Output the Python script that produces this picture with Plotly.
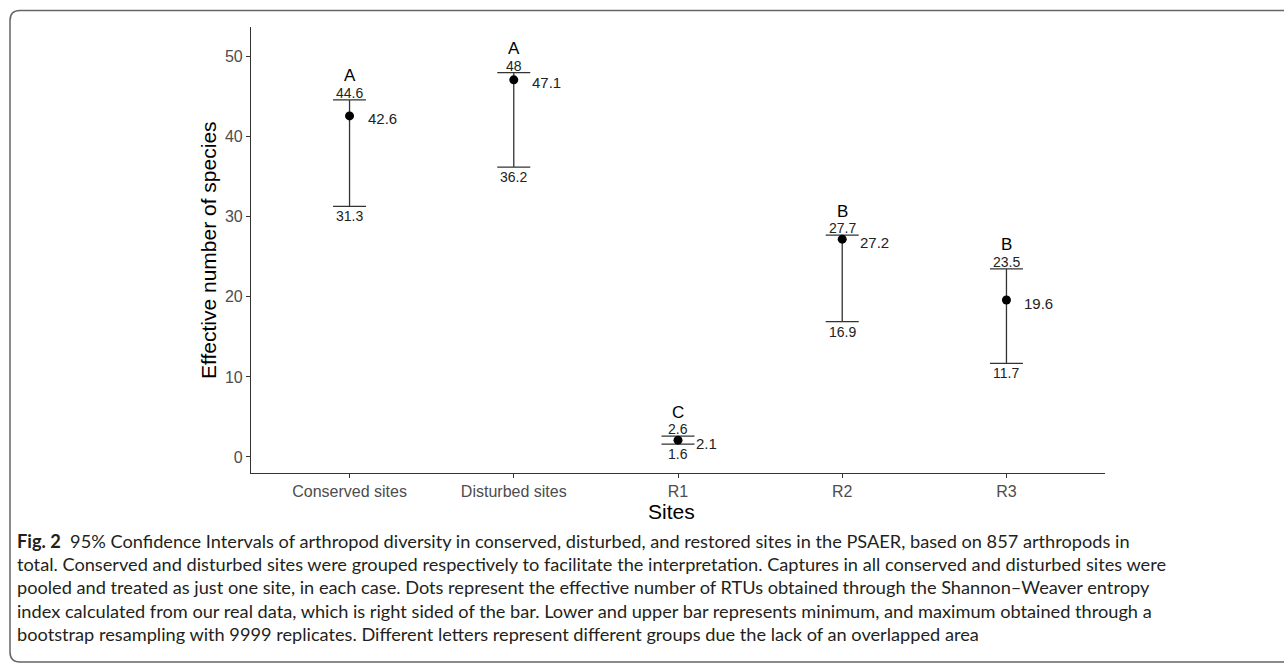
import plotly.graph_objects as go

sites = ["Conserved sites", "Disturbed sites", "R1", "R2", "R3"]
mean_vals = [42.6, 47.1, 2.1, 27.2, 19.6]
lower_vals = [31.3, 36.2, 1.6, 16.9, 11.7]
upper_vals = [44.6, 48.0, 2.6, 27.7, 23.5]
group_letters = ["A", "A", "C", "B", "B"]
y_ticks = [0, 10, 20, 30, 40, 50]

caption_lines = [
    "<b>Fig. 2</b>  95% Confidence Intervals of arthropod diversity in conserved, disturbed, and restored sites in the PSAER, based on 857 arthropods in",
    "total. Conserved and disturbed sites were grouped respectively to facilitate the interpretation. Captures in all conserved and disturbed sites were",
    "pooled and treated as just one site, in each case. Dots represent the effective number of RTUs obtained through the Shannon–Weaver entropy",
    "index calculated from our real data, which is right sided of the bar. Lower and upper bar represents minimum, and maximum obtained through a",
    "bootstrap resampling with 9999 replicates. Different letters represent different groups due the lack of an overlapped area",
]

W, H = 1284, 666
L, R, T, B = 251, 1105, 27, 473


def px(xp):
    return (xp - L) / (R - L)


def py(yp):
    return (B - yp) / (B - T)


fig = go.Figure()
fig.add_trace(go.Scatter(
    x=sites, y=mean_vals, mode="markers",
    marker=dict(color="black", size=9),
    error_y=dict(type="data", symmetric=False,
                 array=[u - m for u, m in zip(upper_vals, mean_vals)],
                 arrayminus=[m - l for m, l in zip(mean_vals, lower_vals)],
                 color="#333333", thickness=1.3, width=16.5),
    showlegend=False, hoverinfo="skip",
))

ann = []
lab_font = dict(family="Liberation Sans, Arial", size=14, color="#222222")
for s, m, lo, up, g in zip(sites, mean_vals, lower_vals, upper_vals, group_letters):
    ann.append(dict(x=s, y=up, text=f"{up:g}", showarrow=False, yshift=7,
                    font=lab_font, xanchor="center", yanchor="middle", borderpad=0))
    ann.append(dict(x=s, y=lo, text=f"{lo:g}", showarrow=False, yshift=-10,
                    font=lab_font, xanchor="center", yanchor="middle", borderpad=0))
    ann.append(dict(x=s, y=m, text=f"{m:g}", showarrow=False, xshift=17, yshift=-3,
                    font=dict(family="Liberation Sans, Arial", size=15, color="#222222"),
                    xanchor="left", yanchor="middle", borderpad=0))
    ann.append(dict(x=s, y=up, text=g, showarrow=False, yshift=24,
                    font=dict(family="Liberation Sans, Arial", size=17, color="black"),
                    xanchor="center", yanchor="middle", borderpad=0))

# axis titles
ann.append(dict(xref="paper", yref="paper", x=px(208), y=py(250),
                text="Effective number of species", textangle=-90, showarrow=False,
                font=dict(family="Liberation Sans, Arial", size=21, color="black"),
                xanchor="center", yanchor="middle"))
ann.append(dict(xref="paper", yref="paper", x=px(671), y=py(512),
                text="Sites", showarrow=False,
                font=dict(family="Liberation Sans, Arial", size=21, color="black"),
                xanchor="center", yanchor="middle"))

# caption
cap_y = [541, 564, 587, 611, 634]
for line, yy in zip(caption_lines, cap_y):
    ann.append(dict(xref="paper", yref="paper", x=px(15), y=py(yy), text=line,
                    showarrow=False, xanchor="left", yanchor="middle",
                    font=dict(family="Lato", size=18.2, color="#231f20")))

# rounded border box (right side runs off the page)
x0, x1 = 10, 1400
y0, y1 = 10.5, 662
r = 10
path = (f"M {px(x1)},{py(y0)} L {px(x0 + r)},{py(y0)} "
        f"Q {px(x0)},{py(y0)} {px(x0)},{py(y0 + r)} "
        f"L {px(x0)},{py(y1 - r)} Q {px(x0)},{py(y1)} {px(x0 + r)},{py(y1)} "
        f"L {px(x1)},{py(y1)}")
shapes = [dict(type="path", xref="paper", yref="paper", path=path,
               line=dict(color="#666666", width=1.5))]

fig.update_layout(
    width=W, height=H, margin=dict(l=L, r=W - R, t=T, b=H - B),
    paper_bgcolor="white", plot_bgcolor="white",
    annotations=ann, shapes=shapes,
    xaxis=dict(type="category", range=[-0.6, 4.6], showline=True, linecolor="#333333",
               linewidth=1.2, ticks="outside", ticklen=4, tickcolor="#333333",
               tickfont=dict(family="Liberation Sans, Arial", size=16, color="#4d4d4d"),
               showgrid=False, zeroline=False, fixedrange=True),
    yaxis=dict(range=[-2.0, 53.7], tickvals=y_ticks, showline=True, linecolor="#333333",
               linewidth=1.2, ticks="outside", ticklen=4, tickcolor="#333333",
               tickfont=dict(family="Liberation Sans, Arial", size=16, color="#4d4d4d"),
               showgrid=False, zeroline=False, fixedrange=True),
)

fig.write_html("out.html")
